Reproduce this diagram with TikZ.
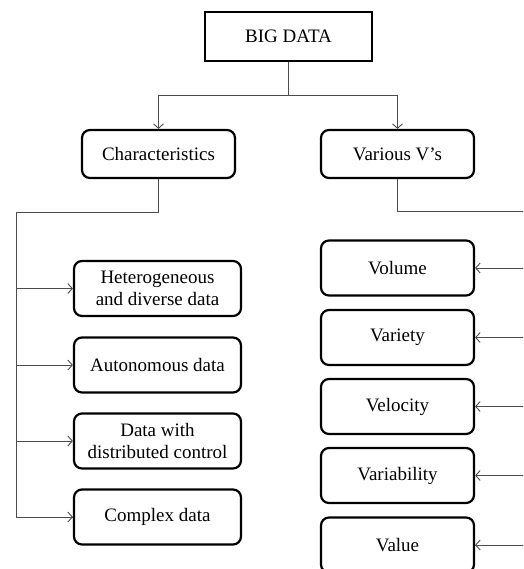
\documentclass[tikz,border=0pt]{standalone}
\usepackage{fontspec}
\setmainfont{Liberation Serif}
\usetikzlibrary{arrows.meta}
\begin{document}
\begin{tikzpicture}[x=1pt,y=-1pt,
  box/.style={draw=black,line width=2.2pt,rounded corners=8pt,align=center,inner sep=0pt,
    font=\fontsize{19}{22}\selectfont},
  topbox/.style={box,rounded corners=0pt},
  conn/.style={draw=black!70,line width=0.9pt},
  arr/.style={conn,-{Straight Barb[length=4.5pt,width=10pt]}}]
\useasboundingbox (0,0) rectangle (523,569);
\clip (0,0) rectangle (523,569);
\node[topbox,minimum width=167pt,minimum height=49pt] (big) at (288.5,36.5) {BIG DATA};
\node[box,minimum width=153pt,minimum height=48pt] (char) at (158.5,154) {Characteristics};
\node[box,minimum width=153pt,minimum height=48pt] (vs) at (397.5,154) {Various V’s};
\node[box,minimum width=167pt,minimum height=55pt] (c1) at (157.5,288.5) {Heterogeneous\\and diverse data};
\node[box,minimum width=167pt,minimum height=55pt] (c2) at (157.5,365) {Autonomous data};
\node[box,minimum width=167pt,minimum height=55pt] (c3) at (157.5,441) {Data with\\distributed control};
\node[box,minimum width=167pt,minimum height=55pt] (c4) at (157.5,517) {Complex data};
\node[box,minimum width=153pt,minimum height=55pt] (v1) at (397.5,268) {Volume};
\node[box,minimum width=153pt,minimum height=55pt] (v2) at (397.5,337.5) {Variety};
\node[box,minimum width=153pt,minimum height=55pt] (v3) at (397.5,406.5) {Velocity};
\node[box,minimum width=153pt,minimum height=55pt] (v4) at (397.5,475.5) {Variability};
\node[box,minimum width=153pt,minimum height=55pt] (v5) at (397.5,545) {Value};
\coordinate (j) at (288.5,95);
\draw[conn] (big.south) -- (j);
\draw[arr] (j) -| (char.north);
\draw[arr] (j) -| (vs.north);
\coordinate (lc) at (16,212);
\draw[conn] (char.south) |- (lc) |- (c4.west);
\draw[arr] (c1.west -| lc) -- (c1.west);
\draw[arr] (c2.west -| lc) -- (c2.west);
\draw[arr] (c3.west -| lc) -- (c3.west);
\draw[arr] (c4.west -| lc) -- (c4.west);
\coordinate (rc) at (530,211);
\draw[conn] (vs.south) |- (rc) |- (v5.east);
\draw[arr] (v1.east -| rc) -- (v1.east);
\draw[arr] (v2.east -| rc) -- (v2.east);
\draw[arr] (v3.east -| rc) -- (v3.east);
\draw[arr] (v4.east -| rc) -- (v4.east);
\draw[arr] (v5.east -| rc) -- (v5.east);
\end{tikzpicture}
\end{document}
